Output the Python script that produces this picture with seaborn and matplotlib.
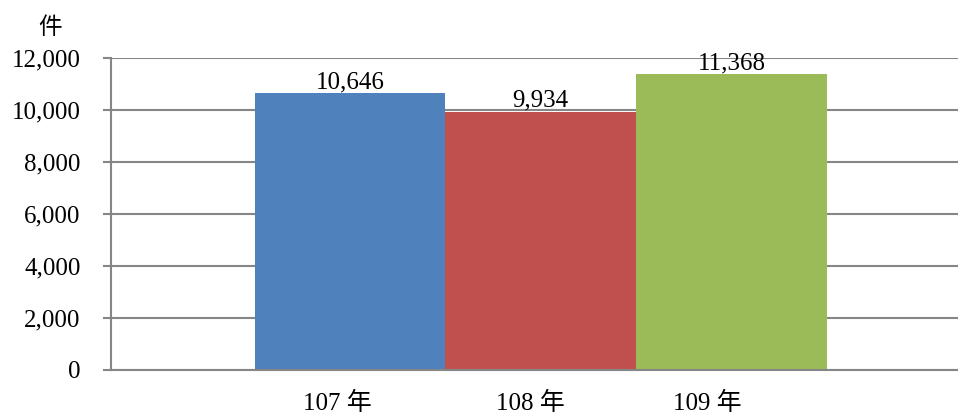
import matplotlib
matplotlib.use("Agg")
import matplotlib.pyplot as plt
import matplotlib.transforms as mtransforms
import seaborn as sns
import pandas as pd

years = ["107 年", "108 年", "109 年"]
counts = [10646, 9934, 11368]
bar_colors = ["#4F81BD", "#C0504D", "#9BBB59"]
y_ticks = [0, 2000, 4000, 6000, 8000, 10000, 12000]
# label nudges in pixels, the original's labels sit a bit left of the bars
label_shift = [-13, -10, -24]

sns.set_theme(style="white")
plt.rcParams["font.family"] = ["Liberation Serif", "Noto Sans CJK TC", "DejaVu Sans"]
plt.rcParams["text.color"] = "black"

df = pd.DataFrame({"year": years, "count": counts})

fig = plt.figure(figsize=(9.58, 4.16), dpi=100)
ax = fig.add_axes([111 / 958, 46 / 416, 1 - 111 / 958, 312 / 416])

sns.barplot(data=df, x="year", y="count", hue="year", palette=bar_colors,
            width=1, saturation=1, legend=False, linewidth=0, ax=ax)

ax.set_xlim(-1.253, 3.188)
ax.set_ylim(0, 12000)
ax.set_yticks(y_ticks)
ax.set_yticklabels([f"{v:,}" for v in y_ticks], fontsize=18)
ax.yaxis.grid(True, color="#868686", linewidth=1.5)
ax.set_axisbelow(True)

for side in ["top", "right"]:
    ax.spines[side].set_visible(False)
ax.spines["left"].set_color("#868686")
ax.spines["left"].set_linewidth(1.5)
ax.spines["bottom"].set_color("#868686")
ax.spines["bottom"].set_linewidth(1.5)

ax.tick_params(axis="y", left=True, length=6, width=1.5, color="#868686",
               labelcolor="black", pad=16)
ax.tick_params(axis="x", bottom=False, labelsize=18, labelcolor="black", pad=10)
ax.set_xlabel("")
ax.set_ylabel("")

for lbl, dx in zip(ax.get_xticklabels(), label_shift):
    lbl.set_transform(lbl.get_transform() +
                      mtransforms.ScaledTranslation(dx / 100, 0, fig.dpi_scale_trans))

for cont in ax.containers:
    ax.bar_label(cont, labels=[f"{v:,.0f}" for v in cont.datavalues],
                 fontsize=18, padding=0, color="black")

fig.text(50 / 958, 1 - 28 / 416, "件", fontsize=17, ha="center", va="center")

fig.savefig("out.png", dpi=100)
